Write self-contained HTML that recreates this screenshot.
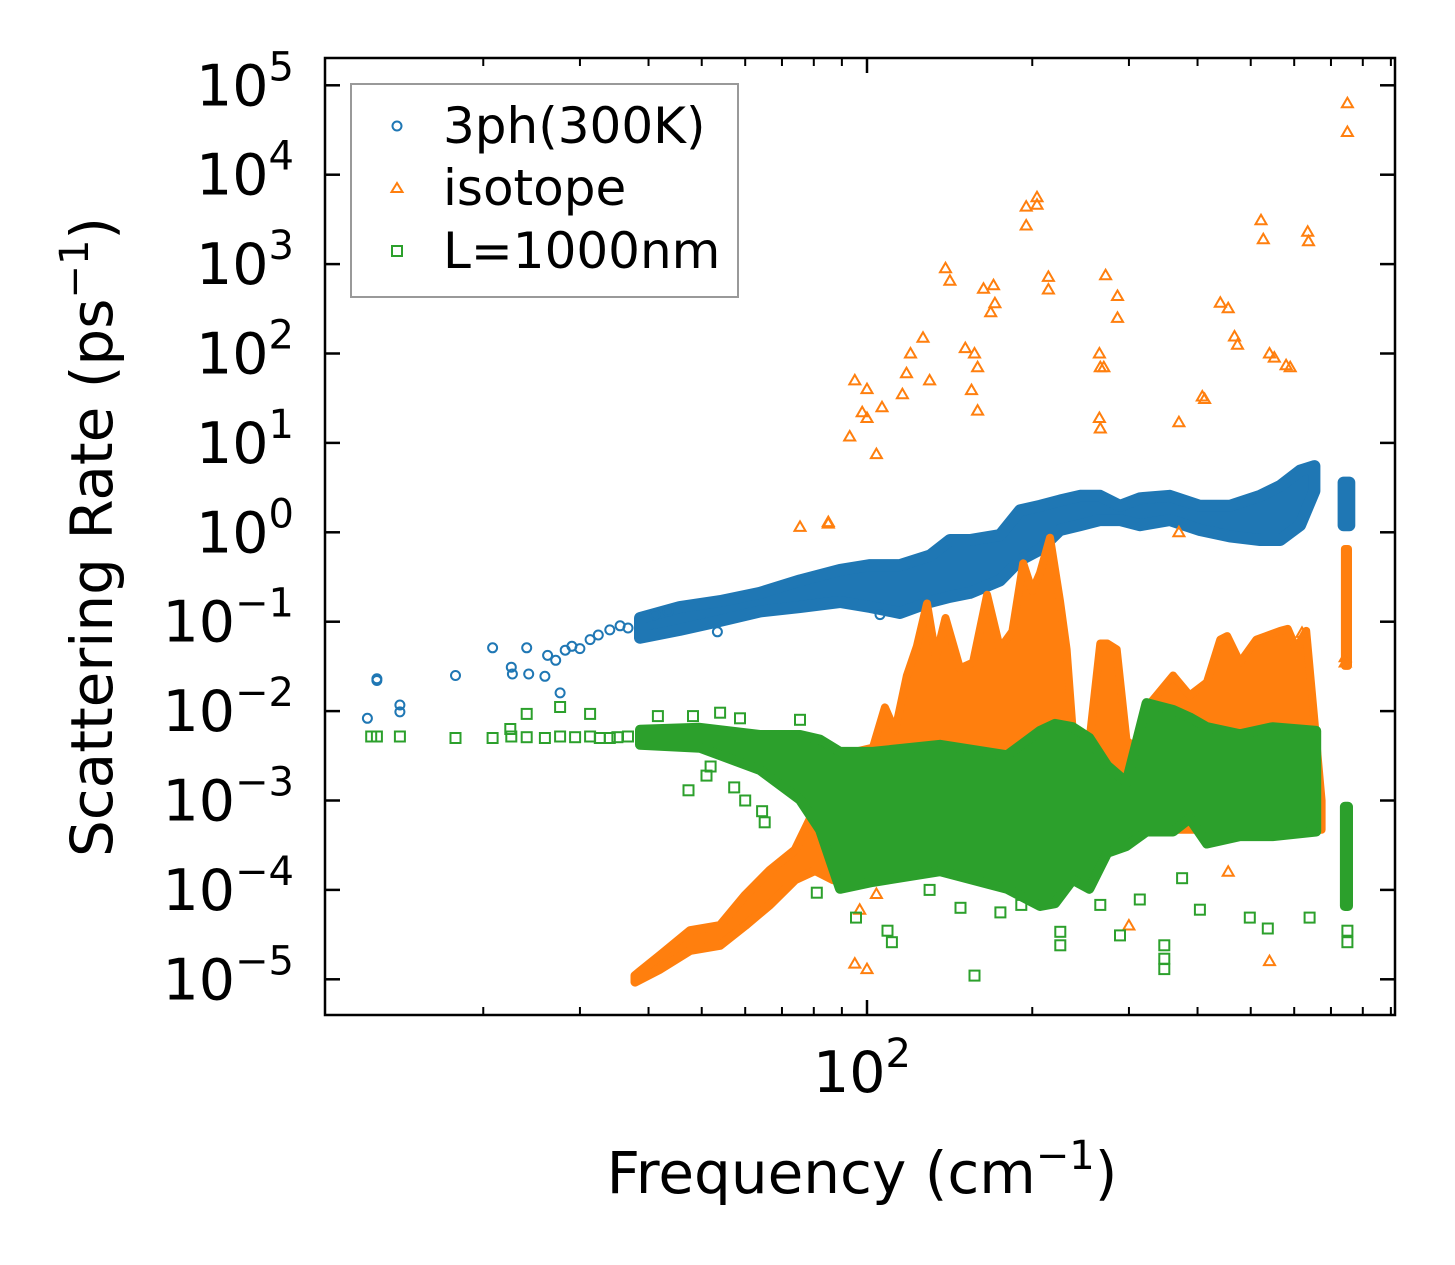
<!DOCTYPE html>
<html><head><meta charset="utf-8"><style>
html,body{margin:0;padding:0;background:#fff;}
svg{display:block;font-family:"DejaVu Sans","Liberation Sans",sans-serif;}
</style></head><body>
<svg id="chart" width="1455" height="1265" viewBox="0 0 1455 1265" xmlns="http://www.w3.org/2000/svg">
<rect x="0" y="0" width="1455" height="1265" fill="#fff"/>
<g id="marks"></g>
<g id="axes"></g>
<g id="legend">
  <rect x="351" y="84" width="387" height="213" fill="#fff" stroke="#999" stroke-width="2"/>
  <circle cx="397" cy="126" r="4.5" fill="none" stroke="#1f77b4" stroke-width="2"/>
  <text x="443" y="143" font-size="50">3ph(300K)</text>
  <path d="M397,183 L402.5,192 L391.5,192 Z" fill="none" stroke="#ff7f0e" stroke-width="2"/>
  <text x="443" y="205" font-size="50">isotope</text>
  <rect x="392" y="246" width="10" height="10" fill="none" stroke="#2ca02c" stroke-width="2"/>
  <text x="443" y="268" font-size="50">L=1000nm</text>
</g>
</svg>
<script>
// ---- data (frequency in cm^-1, rate in ps^-1) ----
const blueBandFreq = [38.6,45.6,54,63.8,75.5,89.3,101.3,114.8,130.3,141.6,154,174.7,190,206.6,224.7,244.4,265.8,289,314,356,404,458,520,566,615,653];
const blueBandLo   = [0.066,0.081,0.102,0.13,0.146,0.166,0.146,0.125,0.166,0.19,0.21,0.29,0.49,0.64,1.06,1.2,1.37,1.37,1.2,1.37,1.06,0.9,0.82,0.82,1.2,2.9];
const blueBandHi   = [0.11,0.146,0.17,0.21,0.29,0.38,0.43,0.43,0.55,0.82,0.82,0.93,1.76,1.98,2.27,2.56,2.56,1.98,2.4,2.56,1.98,1.98,2.56,3.3,4.9,5.5];
const blueBand2Freq = [738,756];
const blueBand2Lo   = [1.2,1.2];
const blueBand2Hi   = [3.6,3.6];
const bluePtFreq = [12.3,12.8,12.8,14.1,14.1,17.8,20.8,22.5,22.6,24,24.2,25.9,27.6,26.2,27.1,28.2,29,30,31.3,32.4,34,35.5,36.7,41.1,43.4,53.4,105.6];
const bluePtRate = [0.0083,0.022,0.023,0.0117,0.0098,0.025,0.051,0.031,0.026,0.051,0.026,0.0245,0.016,0.042,0.037,0.048,0.053,0.050,0.063,0.071,0.081,0.090,0.085,0.12,0.13,0.077,0.12];

const orangeRampFreq = [37.8,42,47.6,54,60,66.5,74,80.4,86.8];
const orangeRampLo   = [0.93e-5,1.3e-5,2.1e-5,2.4e-5,4.0e-5,6.8e-5,1.3e-4,1.65e-4,1.3e-4];
const orangeRampHi   = [1.1e-5,1.86e-5,3.5e-5,4.0e-5,8.7e-5,1.65e-4,2.8e-4,8e-4,1.7e-3];
const orangeSpikeFreq = [86.8,89.3,102.5,107.8,112.5,118.2,123.3,128.6,133.5,139,147.7,156,165.5,174.7,184,192.5,200,206.6,215.4,224.7,231,237,252,266,274,285,297,314,327,361,387,416,440,453,478,512,533,566,584,605,631,658,673];
const orangeSpikeTop  = [1.7e-3,3.2e-3,3.9e-3,0.011,6e-3,0.025,0.053,0.16,0.04,0.11,0.03,0.035,0.20,0.05,0.078,0.45,0.22,0.35,0.87,0.17,0.049,6.0e-3,2.9e-3,0.057,0.057,0.049,4.7e-3,3.5e-3,0.012,0.025,0.015,0.021,0.063,0.069,0.035,0.063,0.069,0.079,0.083,0.05,0.079,4.7e-3,1e-3];
const orangeSpikeBase = 4.7e-4;
const orangeBand2Freq = [742,752];
const orangeBand2Lo   = [0.032,0.032];
const orangeBand2Hi   = [0.65,0.65];
const orangePtFreq = [750,750,204,204,195,195,214,214,139,141.6,272,286,286,163,170,171,168,522,527,635,637,455,440,473,467,126.5,120,118,116,130,151,157,159,155,159,100,95,98,100,104,106.5,93,265,266,270,265,266,541,552,580,590,408,412,370,370,75.5,85,85,743,743,95,100,97,104,541,620,455,300];
const orangePtRate = [6.3e4,3e4,5600,4600,4400,2700,720,520,900,650,750,440,250,530,580,365,290,3100,1900,2300,1800,320,370,125,155,150,100,60,35,50,115,100,70,39,23,40,50,22,19,7.5,25,11.8,100,70,70,19,14.5,100,90,74,70,33,31,17,1.0,1.15,1.25,1.3,0.04,0.035,1.5e-5,1.3e-5,6e-5,9e-5,1.6e-5,0.075,1.6e-4,4e-5];

const greenBandFreq = [38.6,49.6,63.8,75.5,82.1,89.3,102.5,135.8,180,206.6,220,237,254,274,297,323,361,387,416,478,548,658];
const greenBandLo   = [4.2e-3,3.9e-3,2.2e-3,1.02e-3,4.7e-4,1.03e-4,1.23e-4,1.62e-4,1.03e-4,6.6e-5,7.1e-5,1.3e-4,1.03e-4,2.6e-4,3.1e-4,4.5e-4,4.5e-4,6.3e-4,3.3e-4,4.0e-4,4.0e-4,4.5e-4];
const greenBandHi   = [6.2e-3,6.5e-3,5.4e-3,5.4e-3,4.8e-3,3.5e-3,3.5e-3,4.2e-3,3.2e-3,6.0e-3,7.2e-3,6.6e-3,5.0e-3,2.45e-3,1.6e-3,0.0123,0.0103,8.5e-3,6.6e-3,5.5e-3,6.6e-3,6.0e-3];
const greenBand2Freq = [742,752];
const greenBand2Lo   = [6.6e-5,6.6e-5];
const greenBand2Hi   = [8.5e-4,8.5e-4];
const greenPtFreq = [12.5,12.8,14.1,17.8,20.8,22.5,24,25.9,27.6,29.4,31.3,32.6,34,35.1,36.7,24,27.6,31.3,22.4,47.3,57.3,51,51.9,41.6,48.2,54,58.7,64.4,65.1,75.5,60,81,95.5,111,109,157,148,225,225,191,289,348,348,348,375,498,537,640,750,750,404,266,175,130,314];
const greenPtRate = [0.0052,0.0052,0.0052,0.005,0.005,0.0052,0.0051,0.005,0.0052,0.0051,0.0052,0.005,0.005,0.0051,0.0052,9.3e-3,0.0111,9.3e-3,6.3e-3,1.3e-3,1.4e-3,1.9e-3,2.4e-3,8.8e-3,8.8e-3,9.6e-3,8.3e-3,7.6e-4,5.7e-4,8e-3,1e-3,9.3e-5,4.9e-5,2.6e-5,3.5e-5,1.1e-5,6.3e-5,3.4e-5,2.4e-5,6.8e-5,3.1e-5,2.4e-5,1.3e-5,1.7e-5,1.35e-4,4.9e-5,3.7e-5,4.9e-5,3.5e-5,2.6e-5,6e-5,6.8e-5,5.6e-5,1e-4,7.8e-5];

const xMinorTicks = [20,30,40,50,60,70,80,90,200,300,400,500,600,700,800,900];
const xMajorTicks = [100];
const yMajorTicks = [-5,-4,-3,-2,-1,0,1,2,3,4,5];

// ---- scales ----
const L=325, R=1395, T=58, B=1015;
function X(f){ return 867 + 549*(Math.log10(f)-2); }
function Y(r){ return 85.3 + 89.4*(5-Math.log10(r)); }

const NS="http://www.w3.org/2000/svg";
const marks=document.getElementById('marks');
const axes=document.getElementById('axes');
function mk(tag, attrs, parent){
  const e=document.createElementNS(NS,tag);
  for(const k in attrs) e.setAttribute(k, attrs[k]);
  parent.appendChild(e); return e;
}
function band(freq, lo, hi, color, sw, name){
  let pts=[];
  for(let i=0;i<freq.length;i++) pts.push(X(freq[i]).toFixed(1)+','+Y(hi[i]).toFixed(1));
  for(let i=freq.length-1;i>=0;i--) pts.push(X(freq[i]).toFixed(1)+','+Y(lo[i]).toFixed(1));
  const p=mk('polygon',{points:pts.join(' '),fill:color,stroke:color,'stroke-width':sw,'stroke-linejoin':'round'},marks);
  
  
}
function circ(f,r){
  const c=mk('circle',{cx:X(f).toFixed(1),cy:Y(r).toFixed(1),r:4.5,fill:'none',stroke:'#1f77b4','stroke-width':2},marks);
  
  
}
function tri(f,r){
  const x=X(f), y=Y(r);
  const p=mk('path',{d:`M${x.toFixed(1)},${(y-5.5).toFixed(1)} L${(x+5.5).toFixed(1)},${(y+4).toFixed(1)} L${(x-5.5).toFixed(1)},${(y+4).toFixed(1)} Z`,fill:'none',stroke:'#ff7f0e','stroke-width':2},marks);
  
  
}
function sq(f,r){
  const x=X(f), y=Y(r);
  const s=mk('rect',{x:(x-5).toFixed(1),y:(y-5).toFixed(1),width:10,height:10,fill:'none',stroke:'#2ca02c','stroke-width':2},marks);
  
  
}

band(blueBandFreq, blueBandLo, blueBandHi, '#1f77b4', 12, 'band-3ph');
band(blueBand2Freq, blueBand2Lo, blueBand2Hi, '#1f77b4', 12, 'band-3ph-high');
for(let i=0;i<bluePtFreq.length;i++) circ(bluePtFreq[i], bluePtRate[i]);
band(orangeRampFreq, orangeRampLo, orangeRampHi, '#ff7f0e', 9, 'band-isotope-ramp');
band(orangeSpikeFreq, orangeSpikeFreq.map(()=>orangeSpikeBase), orangeSpikeTop, '#ff7f0e', 8, 'band-isotope-spikes');
band(orangeBand2Freq, orangeBand2Lo, orangeBand2Hi, '#ff7f0e', 8, 'band-isotope-high');
for(let i=0;i<orangePtFreq.length;i++) tri(orangePtFreq[i], orangePtRate[i]);
band(greenBandFreq, greenBandLo, greenBandHi, '#2ca02c', 10, 'band-boundary');
band(greenBand2Freq, greenBand2Lo, greenBand2Hi, '#2ca02c', 10, 'band-boundary-high');
for(let i=0;i<greenPtFreq.length;i++) sq(greenPtFreq[i], greenPtRate[i]);

// ---- axes ----
const frame=mk('rect',{x:L,y:T,width:R-L,height:B-T,fill:'none',stroke:'#000','stroke-width':2.5},axes);


xMinorTicks.forEach(f=>{
  const x=X(f);
  const t1=mk('line',{x1:x,x2:x,y1:B,y2:B-8,stroke:'#000','stroke-width':2},axes);
  
  
  const t2=mk('line',{x1:x,x2:x,y1:T,y2:T+8,stroke:'#000','stroke-width':2},axes);
  
  
});
xMajorTicks.forEach(f=>{
  const x=X(f);
  const t1=mk('line',{x1:x,x2:x,y1:B,y2:B-15,stroke:'#000','stroke-width':2.5},axes);
  
  
  const t2=mk('line',{x1:x,x2:x,y1:T,y2:T+15,stroke:'#000','stroke-width':2.5},axes);
  
  
  const lb=mk('text',{x:x-5,y:1092,'font-size':57,'text-anchor':'middle'},axes);
  
  
  lb.innerHTML='10<tspan font-size="40" dy="-25">'+Math.round(Math.log10(f))+'</tspan>';
});
yMajorTicks.forEach(e=>{
  const y=Y(Math.pow(10,e));
  const t1=mk('line',{x1:L,x2:L+15,y1:y,y2:y,stroke:'#000','stroke-width':2.5},axes);
  
  
  const t2=mk('line',{x1:R,x2:R-15,y1:y,y2:y,stroke:'#000','stroke-width':2.5},axes);
  
  
  const lb=mk('text',{x:294,y:y+20,'font-size':57,'text-anchor':'end'},axes);
  
  
  const ex = e<0 ? '\u2212'+(-e) : ''+e;
  lb.innerHTML='10<tspan font-size="40" dy="-25">'+ex+'</tspan>';
});
const xt=mk('text',{x:862,y:1193,'font-size':58,'text-anchor':'middle'},axes);


xt.innerHTML='Frequency (cm<tspan font-size="40" dy="-24">\u22121</tspan><tspan dy="24">)</tspan>';
const yt=mk('text',{x:0,y:0,'font-size':58,'text-anchor':'middle',transform:'translate(112,537) rotate(-90)'},axes);


yt.innerHTML='Scattering Rate (ps<tspan font-size="40" dy="-24">\u22121</tspan><tspan dy="24">)</tspan>';
</script>
</body></html>
